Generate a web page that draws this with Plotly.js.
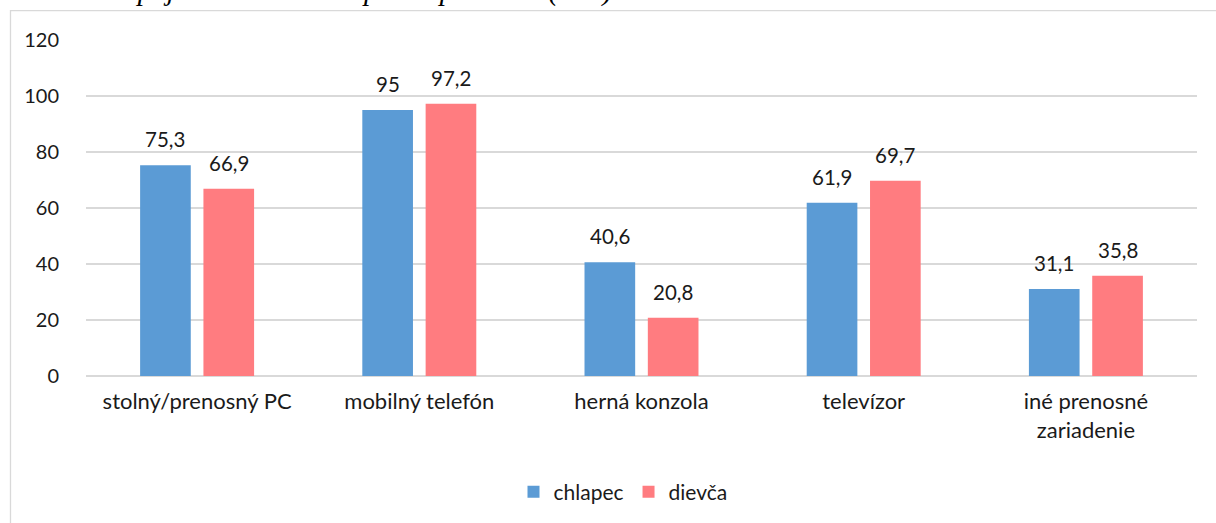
<!DOCTYPE html>
<html>
<head>
<meta charset="utf-8">
<script src="https://cdn.plot.ly/plotly-3.0.1.min.js"></script>
<style>html,body{margin:0;padding:0;background:#fff;}#chart{width:1216px;height:523px;}</style>
</head>
<body>
<div id="chart"></div>
<script>
const categories = ['stolný/prenosný PC', 'mobilný telefón', 'herná konzola', 'televízor', 'iné prenosné<br>zariadenie'];
const chlapec = [75.3, 95, 40.6, 61.9, 31.1];
const dievca = [66.9, 97.2, 20.8, 69.7, 35.8];
const seriesNames = ['chlapec', 'dievča'];
const yTicks = [0, 20, 40, 60, 80, 100, 120];
const titleText = 'Graf 15 <i>Pripájanie k internetu podľa pohlavia (v %)</i>';

const fmt = v => String(v).replace('.', ',');
const font = 'Lato, "Open Sans", sans-serif';
const txtColor = '#1a1a1a';

const traces = [
  {type: 'bar', name: seriesNames[0], x: categories, y: chlapec,
   marker: {color: '#5B9BD5'}, hoverinfo: 'none'},
  {type: 'bar', name: seriesNames[1], x: categories, y: dievca,
   marker: {color: '#FF7C80'}, hoverinfo: 'none'}
];

const L = 86, R = 1197, T = 40, B = 377;
const px = x => (x - L) / (R - L);
const py = y => (B - y) / (B - T);
const bargap = 0.43;
const catW = (R - L) / categories.length;
const slot = catW * (1 - bargap) / 2;

const labelAnns = [];
[chlapec, dievca].forEach((vals, si) => {
  vals.forEach((v, i) => {
    labelAnns.push({xref: 'x', yref: 'y', x: categories[i], y: v, xshift: (si - 0.5) * slot,
      yshift: 12, yanchor: 'bottom', xanchor: 'center', showarrow: false, text: fmt(v),
      font: {family: font, size: 20.5, color: txtColor}});
  });
});

const layout = {
  width: 1216, height: 523,
  margin: {l: L, r: 1216 - R, t: T, b: 523 - B},
  paper_bgcolor: '#fff', plot_bgcolor: '#fff',
  font: {family: font, size: 20, color: txtColor},
  barmode: 'group', bargap: bargap, bargroupgap: 0.2,
  showlegend: true,
  legend: {orientation: 'h', x: px(623), xanchor: 'center', y: py(492), yanchor: 'middle',
           font: {family: font, size: 21, color: txtColor}, itemwidth: 30, tracegroupgap: 0},
  xaxis: {type: 'category', showgrid: false, showline: false, zeroline: false,
          ticks: 'outside', ticklen: 6, tickcolor: 'rgba(0,0,0,0)',
          tickfont: {family: font, size: 22, color: txtColor}},
  yaxis: {range: [0, 120], tickvals: yTicks, showgrid: true, gridcolor: '#D9D9D9', gridwidth: 1.3,
          zeroline: true, zerolinecolor: '#D9D9D9', zerolinewidth: 1.3, showline: false,
          ticks: 'outside', ticklen: 22, tickcolor: 'rgba(0,0,0,0)',
          tickfont: {family: font, size: 20, color: txtColor}},
  shapes: [
    {type: 'rect', xref: 'paper', yref: 'paper', x0: px(10.5), x1: px(1230), y0: py(540), y1: py(10.5),
     line: {color: '#D9D9D9', width: 1.3}, fillcolor: 'rgba(0,0,0,0)', layer: 'below'}
  ],
  annotations: labelAnns.concat([
    {xref: 'paper', yref: 'paper', x: px(2), y: py(9), xanchor: 'left', yanchor: 'bottom',
     text: titleText, showarrow: false,
     font: {family: '"Liberation Serif", "Times New Roman", serif', size: 29, color: '#000'}}
  ])
};

Plotly.newPlot('chart', traces, layout, {displayModeBar: false, staticPlot: true});
</script>
</body>
</html>
